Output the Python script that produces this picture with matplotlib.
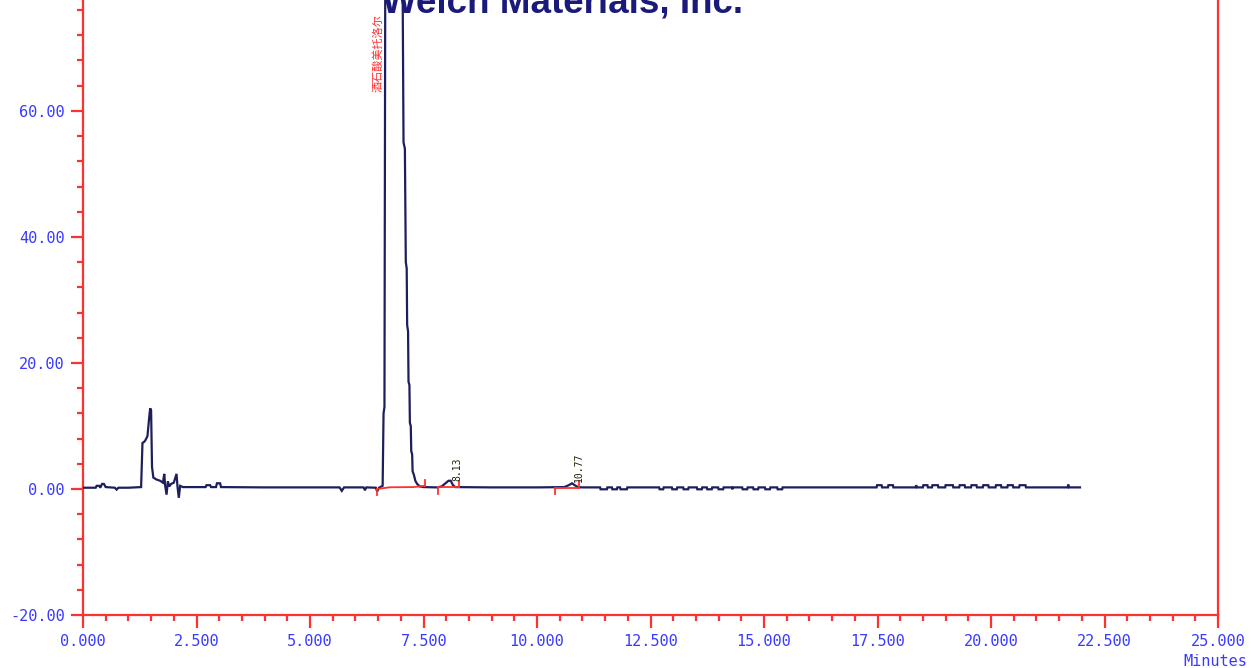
import matplotlib
matplotlib.use("Agg")
import matplotlib.pyplot as plt
from matplotlib.ticker import MultipleLocator, FormatStrFormatter

# ---- chromatogram trace (minutes, mAU) ----
time_min = [
    0.00, 0.20, 0.28, 0.30, 0.36, 0.38, 0.42, 0.46, 0.50, 0.70, 0.74, 0.78, 1.00,
    1.28, 1.31, 1.35, 1.38, 1.42, 1.46, 1.48, 1.50, 1.52, 1.55, 1.62, 1.70, 1.76,
    1.79, 1.81, 1.84, 1.87, 1.90, 1.94, 2.00, 2.06, 2.08, 2.11, 2.14, 2.20, 2.40,
    2.70, 2.72, 2.80, 2.82, 2.93, 2.95, 3.02, 3.04, 4.00, 5.00, 5.65, 5.70, 5.75,
    6.18, 6.21, 6.24, 6.45, 6.48, 6.52, 6.60, 6.62, 6.64, 6.66, 6.80, 6.95, 7.04,
    7.06, 7.09, 7.11, 7.13, 7.14, 7.16, 7.17, 7.19, 7.20, 7.22, 7.23, 7.25, 7.26,
    7.29, 7.32, 7.36, 7.42, 7.50, 7.80, 7.90, 8.00, 8.05, 8.10, 8.15, 8.20, 9.00,
    10.00, 10.60, 10.70, 10.77, 10.83, 10.90, 11.00,
    11.39, 11.40, 11.54, 11.55, 11.65, 11.66, 11.76, 11.77, 11.83, 11.84, 11.98, 11.99,
    12.69, 12.70, 12.78, 12.79, 12.97, 12.98, 13.08, 13.09, 13.22, 13.23, 13.33, 13.34,
    13.52, 13.53, 13.63, 13.64, 13.74, 13.75, 13.85, 13.86, 13.99, 14.00, 14.10, 14.11,
    14.29, 14.30, 14.32, 14.52, 14.53, 14.63, 14.64, 14.76, 14.77, 14.87, 14.88,
    15.02, 15.03, 15.13, 15.14, 15.29, 15.30, 15.40, 15.41, 16.50,
    17.48, 17.49, 17.59, 17.60, 17.73, 17.74, 17.84, 17.85, 18.34, 18.35, 18.37,
    18.50, 18.51, 18.60, 18.61, 18.70, 18.71, 18.83, 18.84, 18.99, 19.00, 19.16, 19.17,
    19.30, 19.31, 19.42, 19.43, 19.56, 19.57, 19.68, 19.69, 19.82, 19.83, 19.94, 19.95,
    20.10, 20.11, 20.22, 20.23, 20.36, 20.37, 20.48, 20.49, 20.62, 20.63, 20.76, 20.77,
    21.69, 21.70, 21.72, 21.96,
]
signal = [
    0.20, 0.20, 0.20, 0.50, 0.50, 0.20, 0.80, 0.80, 0.30, 0.20, -0.10, 0.20, 0.20,
    0.30, 7.30, 7.50, 7.80, 8.40, 11.5, 12.8, 12.5, 3.50, 1.80, 1.50, 1.30, 1.00,
    2.40, 0.50, -0.90, 1.20, 0.40, 0.80, 1.00, 2.40, 0.50, -1.40, 0.50, 0.30, 0.30,
    0.30, 0.60, 0.60, 0.30, 0.30, 0.90, 0.90, 0.30, 0.25, 0.25, 0.25, -0.30, 0.25,
    0.25, -0.20, 0.25, 0.20, -0.40, 0.20, 0.50, 12.0, 13.0, 90.0, 115.0, 110.0, 80.0,
    55.0, 54.0, 36.0, 35.0, 26.0, 25.0, 17.0, 16.5, 10.5, 10.0, 6.00, 5.50, 2.80,
    2.20, 1.30, 0.80, 0.40, 0.30, 0.25, 0.40, 1.00, 1.30, 1.30, 0.60, 0.30, 0.25,
    0.25, 0.30, 0.60, 0.90, 0.60, 0.30, 0.25,
    0.25, -0.05, -0.05, 0.25, 0.25, -0.05, -0.05, 0.25, 0.25, -0.05, -0.05, 0.25,
    0.25, -0.05, -0.05, 0.25, 0.25, -0.05, -0.05, 0.25, 0.25, -0.05, -0.05, 0.25,
    0.25, -0.05, -0.05, 0.25, 0.25, -0.05, -0.05, 0.25, 0.25, -0.05, -0.05, 0.25,
    0.25, -0.05, 0.25, 0.25, -0.05, -0.05, 0.25, 0.25, -0.05, -0.05, 0.25,
    0.25, -0.05, -0.05, 0.25, 0.25, -0.05, -0.05, 0.25, 0.25,
    0.25, 0.60, 0.60, 0.25, 0.25, 0.60, 0.60, 0.25, 0.25, 0.60, 0.25,
    0.25, 0.60, 0.60, 0.25, 0.25, 0.60, 0.60, 0.25, 0.25, 0.60, 0.60, 0.25,
    0.25, 0.60, 0.60, 0.25, 0.25, 0.60, 0.60, 0.25, 0.25, 0.60, 0.60, 0.25,
    0.25, 0.60, 0.60, 0.25, 0.25, 0.60, 0.60, 0.25, 0.25, 0.60, 0.60, 0.25,
    0.25, 0.70, 0.25, 0.25,
]

# ---- integration baselines (red) ----
main_base_t = [6.48, 6.76, 7.28, 7.53]
main_base_v = [0.00, 0.27, 0.30, 0.50]
p813_base_t = [7.81, 8.29]
p813_base_v = [0.27, 0.27]
p1077_base_t = [10.40, 10.93]
p1077_base_v = [0.10, 0.10]
# start (down) / end (up) peak markers: (time, from, to)
peak_markers = [
    (6.48, 0.00, -1.0), (7.53, 0.50, 1.40),
    (7.81, 0.27, -0.8), (8.29, 0.27, 1.30),
    (10.40, 0.10, -0.8), (10.93, 0.10, 1.20),
]

# ---- peak labels ----
peak_names = ["酒石酸美托洛尔", "8.13", "10.77"]
peak_label_t = [6.50, 8.24, 10.93]
peak_label_v = [63.0, 1.3, 1.1]

title_text = "Welch Materials, Inc."
x_unit = "Minutes"

RED = "#ff3030"
BLUE = "#3a3aff"
NAVY = "#1e1e5c"

fig = plt.figure(figsize=(12.51, 6.68), dpi=100)
ax = fig.add_axes([83 / 1251, 53 / 668, (1218 - 83) / 1251, (668 - 53) / 668])

ax.plot(time_min, signal, color=NAVY, lw=1.6, zorder=3, solid_joinstyle="miter")

ax.plot(main_base_t, main_base_v, color=RED, lw=1.3, zorder=4)
ax.plot(p813_base_t, p813_base_v, color=RED, lw=1.3, zorder=4)
ax.plot(p1077_base_t, p1077_base_v, color=RED, lw=1.3, zorder=4)
for t, v0, v1 in peak_markers:
    ax.plot([t, t], [v0, v1], color=RED, lw=1.3, zorder=4)

ax.text(peak_label_t[0], peak_label_v[0], peak_names[0], rotation=90,
        ha="center", va="bottom", color=RED, fontsize=8,
        family=["Noto Sans CJK SC", "DejaVu Sans"], zorder=5)
for name, t, v in zip(peak_names[1:], peak_label_t[1:], peak_label_v[1:]):
    ax.text(t, v, name, rotation=90, ha="center", va="bottom",
            color="#222200", fontsize=7, family="DejaVu Sans Mono", zorder=5)

ax.set_xlim(0, 25)
ax.set_ylim(-20, 77.6)

for side in ["left", "bottom", "right"]:
    ax.spines[side].set_color(RED)
    ax.spines[side].set_linewidth(1.6)
ax.spines["top"].set_visible(False)

ax.xaxis.set_major_locator(MultipleLocator(2.5))
ax.xaxis.set_minor_locator(MultipleLocator(0.5))
ax.yaxis.set_major_locator(MultipleLocator(20))
ax.yaxis.set_minor_locator(MultipleLocator(4))
ax.xaxis.set_major_formatter(FormatStrFormatter("%.3f"))
ax.yaxis.set_major_formatter(FormatStrFormatter("%.2f"))

ax.tick_params(which="major", direction="out", length=9, width=1.6, color=RED,
               labelcolor=BLUE, labelsize=11)
ax.tick_params(which="minor", direction="out", length=4.5, width=1.6, color=RED)
ax.tick_params(axis="x", which="major", pad=5)
ax.tick_params(axis="y", which="major", pad=4)
ax.tick_params(right=False, top=False, which="both")
for lab in ax.get_xticklabels() + ax.get_yticklabels():
    lab.set_family("DejaVu Sans Mono")

fig.text(1215 / 1251, 1 - 661 / 668, x_unit, ha="center", va="center",
         color=BLUE, fontsize=11, family="DejaVu Sans Mono")

fig.text(563 / 1251, 1 - 13 / 668, title_text, ha="center", va="baseline",
         color="#1a1a7a", fontsize=26.5, fontweight="bold", family="Liberation Sans")

fig.savefig("out.png", dpi=100)
